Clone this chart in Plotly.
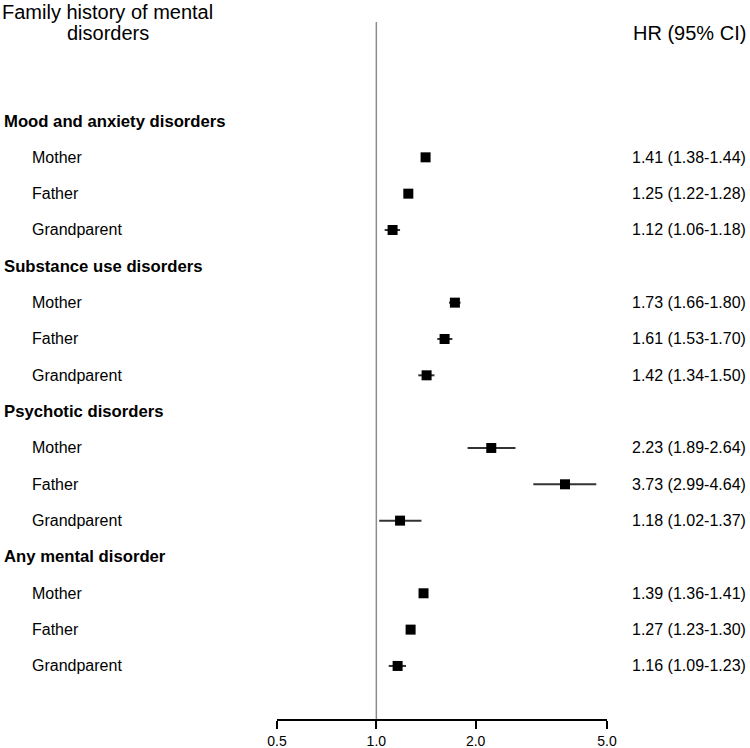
import plotly.graph_objects as go

groups = ["Mood and anxiety disorders", "Substance use disorders",
          "Psychotic disorders", "Any mental disorder"]
relatives = ["Mother", "Father", "Grandparent"]
hr = [1.41, 1.25, 1.12, 1.73, 1.61, 1.42, 2.23, 3.73, 1.18, 1.39, 1.27, 1.16]
lo = [1.38, 1.22, 1.06, 1.66, 1.53, 1.34, 1.89, 2.99, 1.02, 1.36, 1.23, 1.09]
hi = [1.44, 1.28, 1.18, 1.80, 1.70, 1.50, 2.64, 4.64, 1.37, 1.41, 1.30, 1.23]
tick_vals = [0.5, 1.0, 2.0, 5.0]
tick_text = ["0.5", "1.0", "2.0", "5.0"]

W, H = 750, 748
TOP, BOT = 22, 719          # plot area in pixels
ROW0, STEP = 121, 36.33     # first row centre, row spacing

def py(pix):                 # pixel -> paper y
    return (BOT - pix) / (BOT - TOP)

ymin = (TOP - ROW0) / STEP
ymax = (BOT - ROW0) / STEP

rows = []
ann = []
r = 0
k = 0
for g in groups:
    ann.append(dict(x=2 / W, xref="paper", y=r, yref="y", text="<b>%s</b>" % g,
                    xanchor="left", yanchor="middle", showarrow=False,
                    font=dict(size=16.7, color="black")))
    r += 1
    for rel in relatives:
        rows.append(r)
        ann.append(dict(x=30 / W, xref="paper", y=r, yref="y", text=rel,
                        xanchor="left", yanchor="middle", showarrow=False,
                        font=dict(size=16, color="black")))
        ann.append(dict(x=1.0 - 2 / W, xref="paper", y=r, yref="y",
                        text="%.2f (%.2f-%.2f)" % (hr[k], lo[k], hi[k]),
                        xanchor="right", yanchor="middle", showarrow=False,
                        font=dict(size=16, color="black")))
        r += 1
        k += 1

ann.append(dict(x=108 / W, xref="paper", y=py(12), yref="paper",
                text="Family history of mental", xanchor="center", yanchor="middle",
                showarrow=False, font=dict(size=20, color="black")))
ann.append(dict(x=108 / W, xref="paper", y=py(33), yref="paper",
                text="disorders", xanchor="center", yanchor="middle",
                showarrow=False, font=dict(size=20, color="black")))
ann.append(dict(x=1.0 - 2 / W, xref="paper", y=py(33), yref="paper",
                text="HR (95% CI)", xanchor="right", yanchor="middle",
                showarrow=False, font=dict(size=20, color="black")))

fig = go.Figure()
fig.add_trace(go.Scatter(
    x=hr, y=rows, mode="markers",
    marker=dict(symbol="square", size=10, color="black"),
    error_x=dict(type="data", symmetric=False,
                 array=[h - m for h, m in zip(hi, hr)],
                 arrayminus=[m - l for m, l in zip(hr, lo)],
                 color="#333333", thickness=2, width=0),
    showlegend=False, hoverinfo="skip", cliponaxis=False))

fig.add_shape(type="line", xref="x", yref="paper", x0=1, x1=1,
              y0=-8 / (BOT - TOP), y1=1, line=dict(color="#8c8c8c", width=1.5),
              layer="below")

fig.update_layout(
    template="none",
    width=W, height=H, autosize=False,
    margin=dict(l=0, r=0, t=TOP, b=H - BOT, pad=0, autoexpand=False),
    plot_bgcolor="white", paper_bgcolor="white",
    font=dict(family="Liberation Sans, Arial, sans-serif", color="black"),
    xaxis=dict(type="log", range=[-0.30103, 0.69897],
               domain=[277 / W, 607 / W], automargin=False,
               tickvals=tick_vals, ticktext=tick_text,
               ticks="outside", ticklen=8, tickwidth=1.5, tickcolor="black",
               showline=True, linecolor="black", linewidth=1.5,
               showgrid=False, zeroline=False,
               tickfont=dict(size=14, color="black")),
    yaxis=dict(range=[ymax, ymin], visible=False, showgrid=False,
               automargin=False, zeroline=False),
    annotations=ann,
)

fig.write_html("out.html", config={"displayModeBar": False},
               post_script="document.body.style.margin='0';document.body.style.overflow='hidden';")
